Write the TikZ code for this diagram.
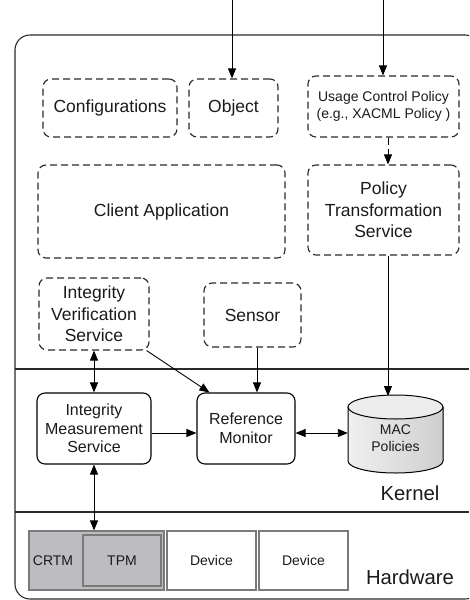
\documentclass[tikz,border=0pt]{standalone}
\usepackage{fontspec}
\setmainfont{Liberation Sans}
\usetikzlibrary{arrows.meta,calc}
\definecolor{ln}{HTML}{2A2A2A}
\definecolor{txt}{HTML}{1A1A1A}
\definecolor{hwgray}{HTML}{BDBDC1}
\definecolor{hwline}{HTML}{7A7A7A}
\tikzset{
  dbox/.style={draw=ln, line width=1.15pt, dash pattern=on 7pt off 4pt, rounded corners=8pt, align=center, inner sep=0pt, text=txt},
  sbox/.style={draw=black, line width=1.1pt, rounded corners=8pt, align=center, inner sep=0pt, text=txt},
  hbox/.style={draw=hwline, line width=1.1pt, align=center, inner sep=0pt, text=txt},
  big/.style={font=\fontsize{17.5}{21.5}\selectfont},
  mid/.style={font=\fontsize{16}{18.5}\selectfont},
  small/.style={font=\fontsize{14}{17}\selectfont},
  layer/.style={font=\fontsize{20.3}{24}\selectfont, text=txt},
  arr/.style={draw=black, line width=0.9pt, -{Triangle[length=10pt,width=8pt]}},
  darr/.style={draw=black, line width=0.9pt, {Triangle[length=10pt,width=8pt]}-{Triangle[length=10pt,width=8pt]}},
}
\begin{document}
\begin{tikzpicture}[x=1pt,y=-1pt]
\useasboundingbox (0,0) rectangle (469,600);
\clip (0,0) rectangle (469,600);
% outer frame
\draw[draw=ln, line width=1.1pt, rounded corners=15pt] (15,35) rectangle (480,599);
\draw[draw=ln, line width=1.1pt] (15,369) -- (469,369);
\draw[draw=ln, line width=1.1pt] (15,512) -- (469,512);
% user space
\node[dbox, big, minimum width=134pt, minimum height=58pt] (conf) at (110,108) {Configurations};
\node[dbox, big, minimum width=89pt, minimum height=58pt] (obj) at (233.5,108) {Object};
\node[dbox, small, minimum width=151pt, minimum height=61pt] (ucp) at (383.5,106.5) {Usage Control Policy\\(e.g., XACML Policy )};
\node[dbox, big, minimum width=247pt, minimum height=93pt] (client) at (161.5,211.5) {Client Application};
\node[dbox, big, minimum width=151pt, minimum height=90pt] (pts) at (383.5,210) {Policy\\Transformation\\Service};
\node[dbox, big, minimum width=110pt, minimum height=72pt] (ivs) at (94,314) {Integrity\\Verification\\Service};
\node[dbox, big, minimum width=97pt, minimum height=64pt] (sensor) at (252.5,315) {Sensor};
% kernel
\node[sbox, mid, minimum width=114pt, minimum height=71pt] (ims) at (94,428.5) {Integrity\\Measurement\\Service};
\node[sbox, mid, minimum width=98pt, minimum height=71pt] (rm) at (246,428.5) {Reference\\Monitor};
% MAC cylinder
\fill[left color=gray!12, right color=gray!38, draw=black, line width=1pt]
  (348,407) -- (348,461) arc[start angle=180, end angle=360, x radius=47.5pt, y radius=12pt] -- (443,407) -- cycle;
\fill[fill=gray!15, draw=black, line width=1pt] (395.5,407) ellipse[x radius=47.5pt, y radius=12pt];
\node[small, align=center, inner sep=0pt, minimum width=95pt, minimum height=78pt, text=txt] (mac) at (395.5,438.5) {MAC\\Policies};
\node[layer] (kernel) at (410,493) {Kernel};
% hardware
\node[hbox, fill=hwgray, minimum width=135pt, minimum height=59pt] (hw) at (96.5,560.5) {};
\node[hbox, fill=hwgray, minimum width=78pt, minimum height=51pt, small] (tpm) at (122,560.5) {TPM};
\node[small, text=txt, inner sep=0pt] (crtm) at (53,561) {CRTM};
\node[hbox, small, minimum width=89pt, minimum height=59pt] (dev1) at (211.5,560.5) {Device};
\node[hbox, small, minimum width=89pt, minimum height=59pt] (dev2) at (303.5,560.5) {Device};
\node[layer] (hwlabel) at (410,577) {Hardware};
% connectors
\coordinate (in1) at (232,0);
\coordinate (in2) at (383,0);
\draw[arr] (in1) -- (in1 |- obj.north);
\draw[arr] (in2) -- (in2 |- ucp.north);
\draw[arr, dash pattern=on 7pt off 4pt] ([xshift=4.5pt]ucp.south) -- ([xshift=4.5pt]pts.north);
\coordinate (mactop) at (388,396);
\draw[arr] ([xshift=4.5pt]pts.south) -- (mactop);
\draw[darr] (ivs.south) -- (ims.north);
\draw[arr] ([xshift=-3pt]ivs.south east) -- ([xshift=13pt]rm.north west);
\draw[arr] ([xshift=4.5pt]sensor.south) -- ([xshift=11pt]rm.north);
\draw[arr] ([yshift=-4.5pt]ims.east) -- ([yshift=-4.5pt]rm.west);
\draw[darr] ([yshift=-4.5pt]rm.east) -- ([yshift=-4.5pt]rm.east -| mac.west);
\draw[darr] (ims.south) -- (ims.south |- hw.north);
\end{tikzpicture}
\end{document}
